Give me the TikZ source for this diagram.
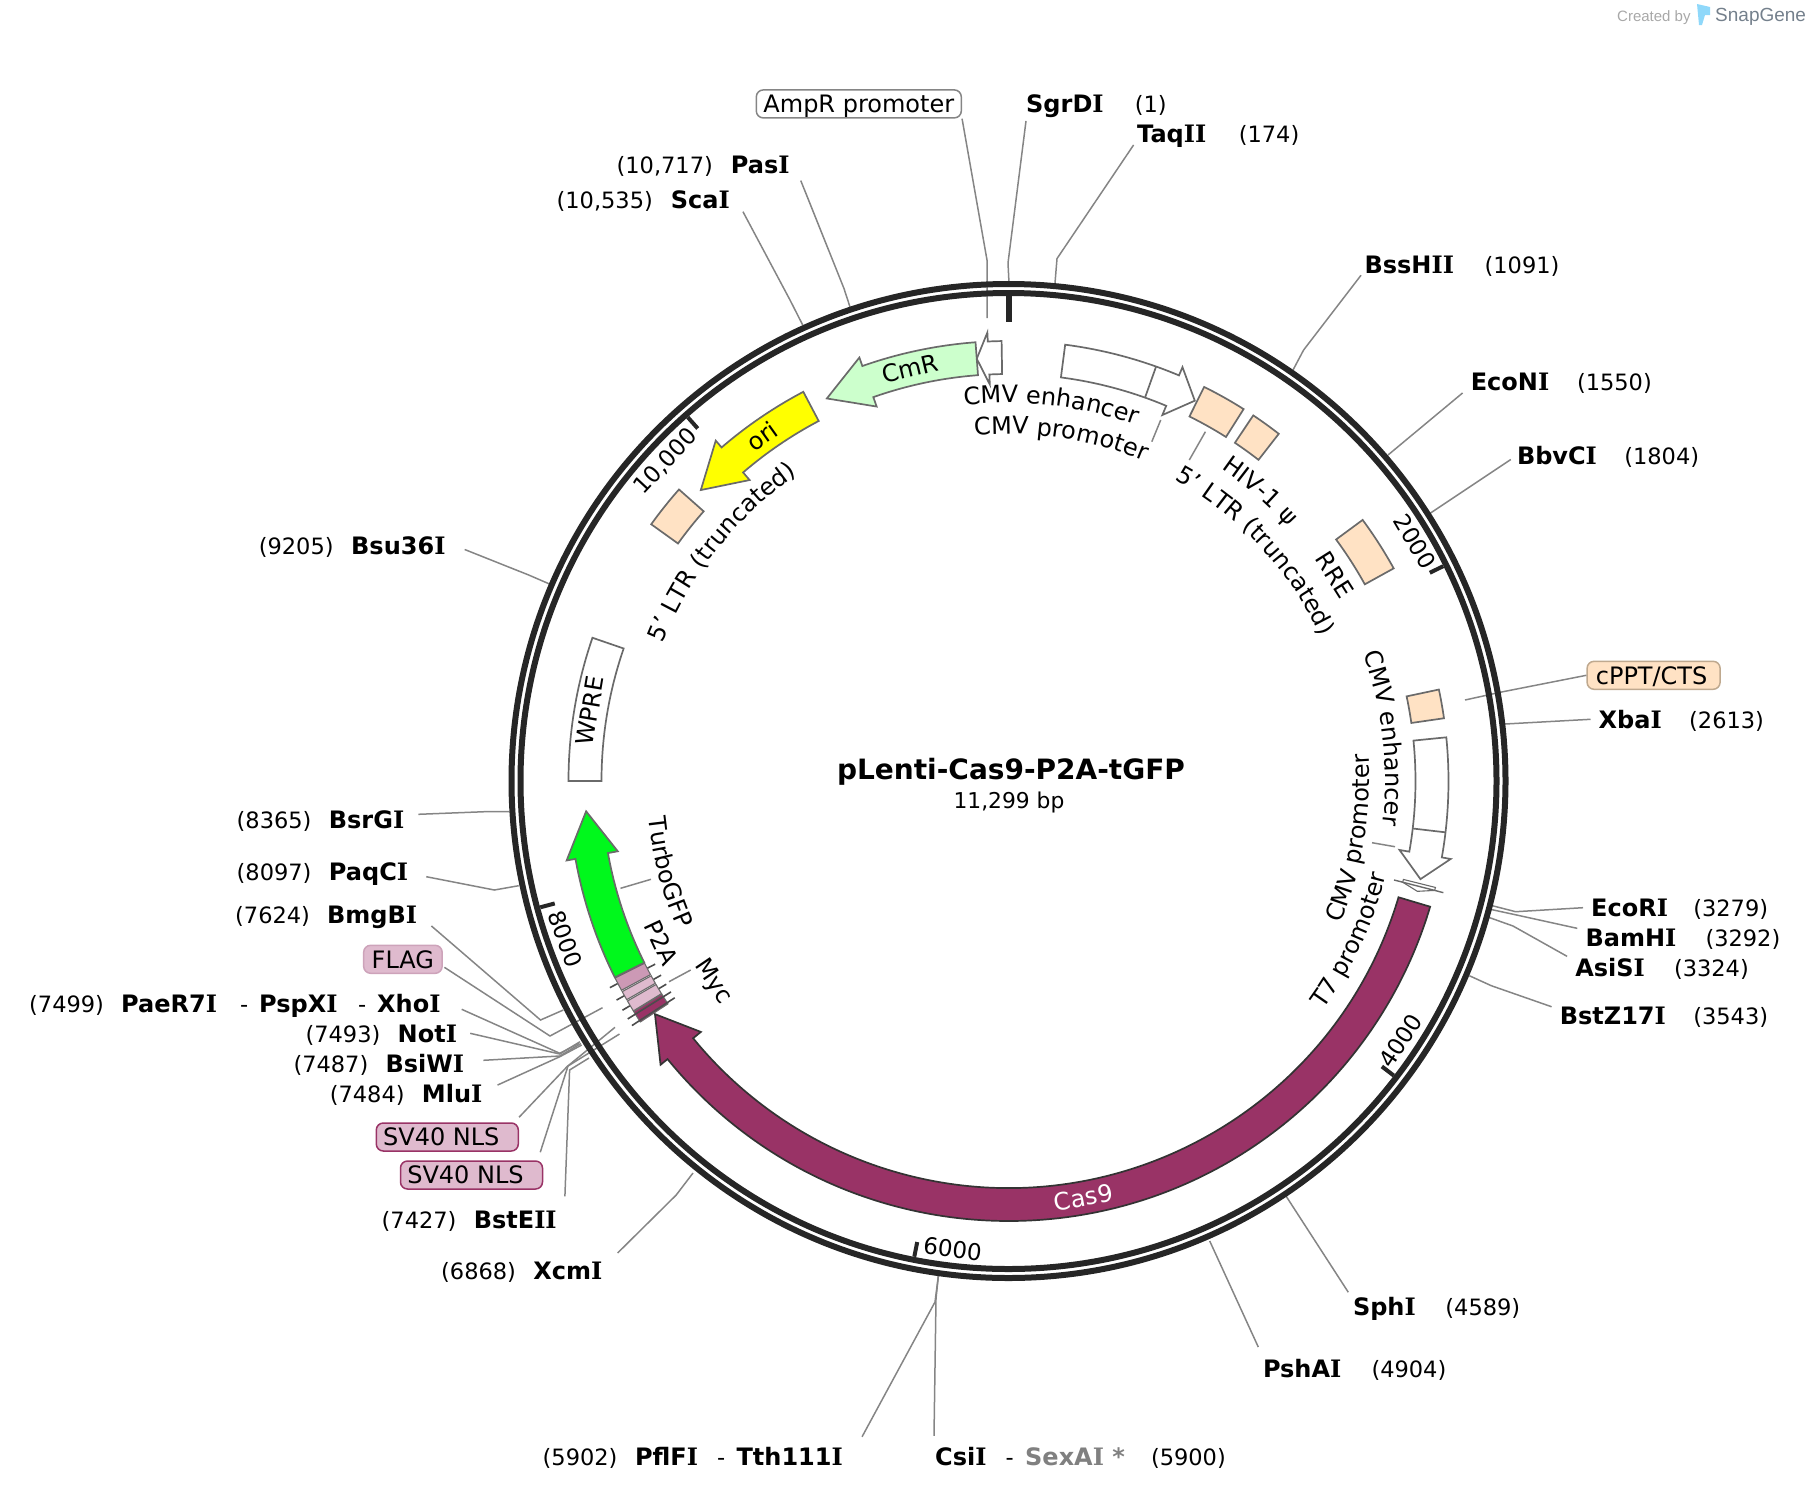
\documentclass[tikz,border=0pt]{standalone}
\usepackage{fontspec}
\setmainfont{DejaVu Sans}[Ligatures=ResetAll]
\newfontfamily\markfont{Liberation Sans}
\newfontfamily\slabfont{DejaVu Serif}
\usetikzlibrary{decorations.text}
\definecolor{ringcol}{HTML}{262626}
\definecolor{leadcol}{HTML}{858585}
\definecolor{edgecol}{HTML}{6A6A6A}
\definecolor{peach}{HTML}{FFE2C4}
\definecolor{cmrcol}{HTML}{CCFFCC}
\definecolor{oricol}{HTML}{FFFF00}
\definecolor{gfpcol}{HTML}{00F81C}
\definecolor{casscol}{HTML}{993366}
\definecolor{ptwocol}{HTML}{CC99B5}
\definecolor{pinkbox}{HTML}{DFBACE}
\definecolor{flagedge}{HTML}{CDA3BA}
\definecolor{tanedge}{HTML}{BFA98F}
\definecolor{logocol}{HTML}{8FD8FA}
\definecolor{markcol}{HTML}{74808C}
\definecolor{createdcol}{HTML}{A8A8A8}
\newcommand{\labelsize}{\fontsize{24}{28}\selectfont}
\newcommand{\sitesize}{\fontsize{24}{28}\selectfont\bfseries}
\newcommand{\numsize}{\fontsize{22.5}{28}\selectfont}
\newcommand{\Ib}{{\slabfont I}}
\tikzset{
  ring/.style={draw=ringcol,line width=6pt},
  ticks/.style={draw=ringcol,line width=4pt},
  leader/.style={draw=leadcol,line width=1.5pt},
  feature/.style={draw=edgecol,line width=1.7pt,line join=miter},
  barbline/.style={draw=black!70,line width=1.6pt},
  sitename/.style={font=\sitesize,anchor=west,xshift=-8pt,inner xsep=8pt,inner ysep=2pt,text height=17.5pt,text depth=0pt},
  sitenum/.style={font=\numsize,anchor=west,inner sep=0pt,text height=17.5pt,text depth=0pt},
  arclabel/.style={font=\labelsize,inner sep=0pt,text height=17.5pt,text depth=0pt},
  ticklabel/.style={arclabel,font=\fontsize{23}{28}\selectfont},
  featbox/.style={font=\labelsize,rounded corners=7pt,line width=1.5pt,minimum height=28pt,inner sep=0pt,text height=17.5pt,text depth=0pt}
}
\newcommand{\featarrow}[4]{
  \draw[feature,#1] ({#2-90}:407) arc[start angle=#2-90,end angle=#3-90,radius=407]
    -- ({#3-90}:397) -- ({#4-90}:423.5) -- ({#3-90}:449) -- ({#3-90}:440)
    arc[start angle=#3-90,end angle=#2-90,radius=440] -- cycle;
}
\newcommand{\featblock}[3]{
  \draw[feature,#1] ({#2-90}:407) arc[start angle=#2-90,end angle=#3-90,radius=407]
    -- ({#3-90}:440) arc[start angle=#3-90,end angle=#2-90,radius=440] -- cycle;
}
\newcommand{\curvedlabel}[4]{
  \path[decorate,decoration={text along path,text align=center,text={|\labelsize|#4}}]
    ({#2-#3*40-90}:#1) arc[start angle=#2-#3*40-90,end angle=#2+#3*40-90,radius=#1];
}
\begin{document}
\begin{tikzpicture}[x=1pt,y=-1pt]
  \useasboundingbox (0,0) rectangle (1810,1494);
  \node[font=\markfont\fontsize{15}{18}\selectfont,text=createdcol,anchor=west,inner sep=0pt] (createdby) at (1617,17.5) {Created by};
  \fill[logocol] (1697,4) -- (1710,7) -- (1710,15) -- (1705,15) -- (1702,25) -- (1699,25) -- cycle;
  \node[font=\markfont\fontsize{19}{22}\selectfont,text=markcol,anchor=west,inner sep=0pt] (snapgene) at (1715,17) {SnapGene};
  \foreach \nm/\x/\y/\txt in {sgrdi/1026/104/SgrD\Ib,taqii/1137/134/Taq\Ib\Ib,pasi/730.7/165/Pas\Ib,scai/670.6/199.7/Sca\Ib,
      bsshii/1364.4/264.3/BssH\Ib\Ib,econi/1470.6/382/EcoN\Ib,bbvci/1516.8/456/BbvC\Ib,bsu/351/546/Bsu36\Ib,
      bsrgi/328.7/819.3/BsrG\Ib,paqci/328.7/871.7/PaqC\Ib,bmgbi/327/915/BmgB\Ib,paer/121/1003.3/PaeR7\Ib,
      pspxi/259/1003.3/PspX\Ib,xhoi/377/1003.3/Xho\Ib,noti/397.5/1033.3/Not\Ib,bsiwi/385.4/1063.3/BsiW\Ib,
      mlui/421.7/1094/Mlu\Ib,bsteii/473.6/1219.3/BstE\Ib\Ib,xcmi/533.2/1271/Xcm\Ib,xbai/1598.5/719.3/Xba\Ib,
      ecori/1591/907.7/EcoR\Ib,bamhi/1585.3/937.3/BamH\Ib,asisi/1575.1/967.3/AsiS\Ib,bstz/1559.6/1015.7/BstZ17\Ib,
      sphi/1352.8/1306.7/Sph\Ib,pshai/1262.8/1369/PshA\Ib,pflfi/634.9/1456.7/PflF\Ib,tth/736.4/1456.7/Tth111\Ib,
      csii/935/1456.7/Csi\Ib}{
    \node[sitename] (\nm) at (\x,\y) {\txt};
  }
  \node[sitename,text=black!50] (sexai) at (1025,1456.7) {SexA\Ib\ *};
  \foreach \nm/\x/\y/\txt in {sgrdin/1134.7/104/(1),taqiin/1238.6/134/(174),pasin/616.4/165/{(10,717)},scain/556.4/199.7/{(10,535)},
      bsshiin/1484.4/264.3/(1091),econin/1576.8/382/(1550),bbvcin/1624.1/456/(1804),bsun/258.6/546/(9205),
      bsrgin/236.5/819.3/(8365),paqcin/236.5/871.7/(8097),bmgbin/235/915/(7624),paern/29/1003.3/(7499),
      dasha/240/1003.3/-,dashb/358/1003.3/-,notin/305.4/1033.3/(7493),bsiwin/293.3/1063.3/(7487),
      mluin/329.6/1094/(7484),bsteiin/381.5/1219.3/(7427),xcmin/441/1271/(6868),xbain/1689/719.3/(2613),
      ecorin/1693.1/907.7/(3279),bamhin/1705.3/937.3/(3292),asisin/1673.8/967.3/(3324),bstzn/1693.1/1015.7/(3543),
      sphin/1445.2/1306.7/(4589),pshain/1371.3/1369/(4904),pflfin/542.5/1456.7/(5902),dashc/716.8/1456.7/-,
      dashd/1005.4/1456.7/-,sexain/1150.8/1456.7/(5900)}{
    \node[sitenum] (\nm) at (\x,\y) {\txt};
  }
  \node[featbox,draw=leadcol,fill=white,minimum width=205pt] (amprbox) at (858.8,103.9) {AmpR promoter};
  \node[featbox,draw=flagedge,fill=pinkbox,minimum width=78.5pt] (flagbox) at (402.9,959.3) {FLAG};
  \node[featbox,draw=casscol,fill=pinkbox,minimum width=142pt] (nlsbox) at (447.3,1137) {SV40 NLS\hspace*{12pt}};
  \node[featbox,draw=casscol,fill=pinkbox,minimum width=142pt] (nlsboxb) at (471.5,1175) {SV40 NLS\hspace*{12pt}};
  \node[featbox,draw=tanedge,fill=peach,minimum width=133pt] (cpptbox) at (1653.6,675.3) {cPPT/CTS\hspace*{4pt}};
  \foreach \nm/\anc/\sx/\sy/\bx/\by/\ex/\ey in {sgrdi/south west/8/6/1008/263/1009/283,amprbox/south east/0/0/987/260/987/318,
      taqii/south west/4.6/0/1057/258.6/1055/283,pasi/south east/3/4.6/844/288.6/850/307,scai/south east/5/1/790/300/802.7/325,
      bsshii/south west/4.6/0/1303.6/350/1293/370,econi/south west/0/0/1388/455/1388/455,bbvci/west/2/3.5/1429/514/1429/514,
      bsu/east/11/3.5/528.7/575/549.5/584,bsrgi/east/6/-5/484.7/811.7/509/811.7,paqci/east/10/5/494.4/890/518.7/885.7,
      bmgbi/south east/6/0/540.5/1020/563.3/1010,flagbox/east/1.5/8/550/1036/602.5/1007.7,xhoi/east/13/6/559.8/1053.3/579/1043.3,
      noti/east/5/0/559.8/1054/580/1041.7,bsiwi/east/11/-3/559.8/1056/581/1043.5,mlui/north east/7/2/559.8/1056.7/581.7/1045,
      nlsbox/north east/0/-5/567/1066.7/615/1027.3,nlsboxb/north east/-3/-8/568/1066/619.5/1034,bsteii/north east/0/-12/569.6/1070/589/1058,
      xcmi/north east/7/-7/676.2/1195/693/1173,cpptbox/west/0/0/1500/692.3/1465/700,xbai/west/0/0/1505/724/1505/724,
      ecori/west/0/0/1515.6/911.7/1492.3/905.7,bamhi/north west/0/2/1516.6/915/1490.3/909.3,asisi/north west/0/0/1513/926/1488.6/917.3,
      bstz/north west/0/2/1491.3/985.7/1469.3/975.7,sphi/north west/3.5/-3.5/1286/1196/1286/1196,pshai/north west/3.5/-11/1216.6/1256/1209.7/1241,
      tth/north east/11/-9/935/1302/938.4/1275.5,csii/north west/7/-10/936/1298.6/938.4/1275.5}{
    \coordinate (\nm-b) at (\bx,\by);
    \coordinate (\nm-e) at (\ex,\ey);
    \draw[leader] ([shift={(\sx,\sy)}]\nm.\anc) -- (\nm-b) -- (\nm-e);
  }
  \foreach \nm/\ax/\ay/\ex/\ey in {gfpl/620.5/888.3/651/879.3,mycl/669/981.7/690.7/970,promtop/1160.7/420/1151.8/441.7,
      ltrtop/1205.4/431.7/1189.3/460,promright/1372/842.7/1395/846.7}{
    \coordinate (\nm-a) at (\ax,\ay);
    \coordinate (\nm-e) at (\ex,\ey);
    \draw[leader] (\nm-a) -- (\nm-e);
  }
  \node[font=\fontsize{28}{32}\selectfont\bfseries,inner sep=0pt] (title) at (1011,772) {pLenti-Cas9-P2A-tGFP};
  \node[font=\fontsize{21.8}{26}\selectfont,inner sep=0pt] (size) at (1009,802) {11,299 bp};
  \begin{scope}[shift={(1008.5,781)}]
    \draw[ring] (0,0) circle[radius=497];
    \draw[ring] (0,0) circle[radius=488];
    \draw[ticks,line width=6pt] (-90:485) -- (-90:459);
    \foreach \a in {63.7,127.4,191.2,254.9,318.6}{
      \draw[ticks] ({\a-90}:485) -- ({\a-90}:470);
    }
    \featarrow{fill=white}{-0.9}{-2.7}{-4.3}
    \featarrow{fill=cmrcol}{-4.3}{-19.4}{-25.4}
    \featarrow{fill=oricol}{-27.8}{-40.7}{-46.6}
    \featblock{fill=peach}{-54.3}{-48.5}
    \featblock{fill=white}{270}{289}
    \featarrow{fill=white}{7.4}{22.8}{26.1}
    \draw[feature] ({19.6-90}:407) -- ({19.6-90}:440);
    \featblock{fill=peach}{26.4}{32.3}
    \featblock{fill=peach}{33.8}{37.9}
    \featblock{fill=peach}{53.6}{61.1}
    \featblock{fill=peach}{78}{81.8}
    \featarrow{fill=white}{84.3}{100}{103.4}
    \draw[feature] ({96.7-90}:407) -- ({96.7-90}:440);
    \draw[feature,line width=1.1pt,fill=white] ({104-90}:407) -- ({104.4-90}:407) -- ({105.1-90}:423.5)
      -- ({104.4-90}:440) -- ({104-90}:440) -- cycle;
    \draw[feature,line width=1.4pt] ({104.4-90}:398) -- ({104.4-90}:449);
    \featarrow{fill=gfpcol}{243.5}{259.8}{265.9}
    \featarrow{fill=casscol,draw=black!80}{106.6}{230.8}{236.6}
    \foreach \ah in {242.6,240.8,239.3}{
      \draw[barbline] ({\ah-90}:398) -- ({\ah-90}:449);
    }
    \foreach \ab/\at/\col in {243.4/241.6/ptwocol,241.4/240.2/pinkbox,240/238.5/pinkbox,238.4/236.8/casscol}{
      \featblock{fill=\col,line width=1.1pt}{\ab}{\at}
    }
    \foreach \ah in {238,237}{
      \draw[barbline] ({\ah-90}:398) -- ({\ah-90}:449);
    }
    \foreach \nm/\a/\r/\rot/\txt in {cmrt/-13.4/424/13.4/CmR,orit/-35.6/424/35.6/ori,wpret/-80.5/424.5/80.5/WPRE,
        rret/57.7/386/-57.7/RRE,ptwoa/245/383/-65/P2A,myct/235.8/355/-55.8/Myc}{
      \node[arclabel,rotate=\rot] (\nm) at ({\a-90}:\r) {\txt};
    }
    \foreach \nm/\a/\r/\rot/\txt in {ticktwo/59.5/472/-59.5/2000,tickfour/123.5/470/56.5/4000,ticksix/186.8/471/-6.8/6000,
        tickeight/250.4/470/-70.4/8000,ticktenk/-47/470/47/{10,000}}{
      \node[ticklabel,rotate=\rot] (\nm) at ({\a-90}:\r) {\txt};
    }
    \node[arclabel,rotate=10.2,text=white] (cast) at ({169.8-90}:423) {Cas9};
    \curvedlabel{378}{6.5}{1}{CMV enhancer}
    \curvedlabel{347}{8.7}{1}{CMV promoter}
    \curvedlabel{378}{41}{1}{HIV-1 ψ}
    \curvedlabel{344}{47}{1}{5' LTR (truncated)}
    \curvedlabel{377}{83.5}{1}{CMV enhancer}
    \curvedlabel{361}{99.5}{-1}{CMV promoter}
    \curvedlabel{389}{115}{-1}{T7 promoter}
    \curvedlabel{372}{-51.4}{1}{5' LTR (truncated)}
    \curvedlabel{362}{255}{-1}{TurboGFP}
  \end{scope}
\end{tikzpicture}
\end{document}
